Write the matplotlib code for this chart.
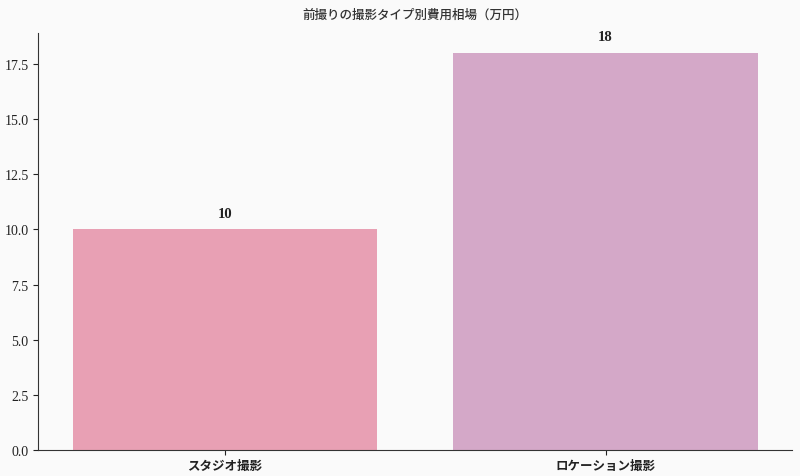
import matplotlib
matplotlib.use("Agg")
import matplotlib.pyplot as plt

# Data
categories = ["スタジオ撮影", "ロケーション撮影"]
costs = [10, 18]
bar_colors = ["#E8A0B4", "#D4A8C8"]

plt.rcParams['font.family'] = ['Liberation Serif', 'Noto Sans CJK JP']

fig, ax = plt.subplots(figsize=(8, 4.77), dpi=100)
fig.patch.set_facecolor("#FAFAFA")
ax.set_facecolor("#FAFAFA")
fig.subplots_adjust(left=0.048, right=0.99, bottom=0.055, top=0.928)

bars = ax.bar(categories, costs, color=bar_colors, width=0.8)
for b, v in zip(bars, costs):
    ax.annotate(f"{v}", (b.get_x() + b.get_width() / 2, v),
                xytext=(0, 7), textcoords="offset points",
                ha="center", va="bottom", fontsize=10.5,
                fontweight="bold", color="#222222")

ax.set_title("前撮りの撮影タイプ別費用相場（万円）", fontsize=9, color="#333333",
             fontweight="medium", pad=11)
ax.spines["top"].set_visible(False)
ax.spines["right"].set_visible(False)
ax.spines["left"].set_color("#333333")
ax.spines["bottom"].set_color("#333333")
ax.tick_params(labelsize=10, colors="#222222")
for lbl in ax.get_xticklabels():
    lbl.set_fontweight("bold")
    lbl.set_fontsize(9)

fig.savefig("out.png", dpi=100, facecolor=fig.get_facecolor())
